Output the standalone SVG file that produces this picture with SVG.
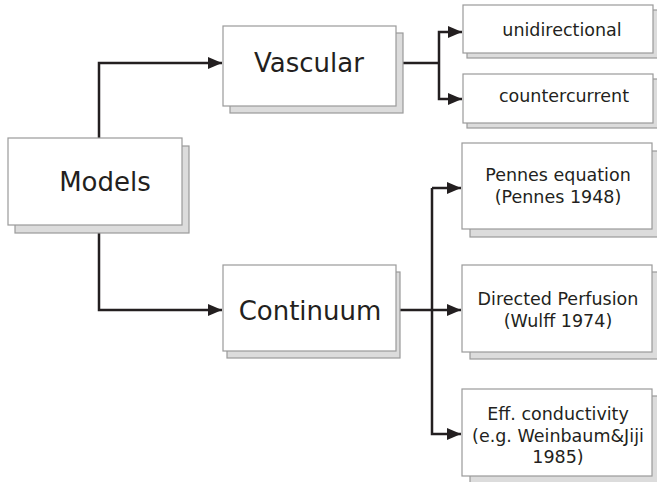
<svg xmlns="http://www.w3.org/2000/svg" width="657" height="482" viewBox="0 0 657 482">
<style>
.box{fill:#fff;stroke:#9a9a9a;stroke-width:1.2}
.sh{fill:#dcdcdc;stroke:#9a9a9a;stroke-width:1.2}
.big{font-family:"DejaVu Sans",Verdana,sans-serif;font-size:26px;fill:#231f20;text-anchor:middle}
.sm{font-family:"DejaVu Sans",Verdana,sans-serif;font-size:17.5px;fill:#231f20;text-anchor:middle}
.ln{fill:none;stroke:#231f20;stroke-width:2.5}
</style>
<defs>
<marker id="ah" markerWidth="14" markerHeight="12" refX="14" refY="6" orient="auto" markerUnits="userSpaceOnUse">
<path d="M0,0 L14,6 L0,12 Z" fill="#231f20"/>
</marker>
</defs>
<g id="connectors">
<path class="ln" d="M99,138 V63 H222" marker-end="url(#ah)"/>
<path class="ln" d="M99,233 V310 H222" marker-end="url(#ah)"/>
<path class="ln" d="M403,63 H439"/>
<path class="ln" d="M439,63 V32 H462" marker-end="url(#ah)"/>
<path class="ln" d="M439,63 V99 H462" marker-end="url(#ah)"/>
<path class="ln" d="M400,310 H461" marker-end="url(#ah)"/>
<path class="ln" d="M432,188 H461" marker-end="url(#ah)"/>
<path class="ln" d="M432,188 V434 H461" marker-end="url(#ah)"/>
</g>
<g id="models">
<rect class="sh" x="15" y="146" width="174" height="87"/>
<rect class="box" x="8" y="138" width="174" height="87"/>
<text class="big" x="105" y="191">Models</text>
</g>
<g id="vascular">
<rect class="sh" x="230" y="33" width="173" height="80"/>
<rect class="box" x="223" y="26" width="173" height="80"/>
<text class="big" x="309" y="72">Vascular</text>
</g>
<g id="continuum">
<rect class="sh" x="227" y="272" width="173" height="86"/>
<rect class="box" x="223" y="265" width="173" height="86"/>
<text class="big" x="310" y="320">Continuum</text>
</g>
<g id="unidirectional">
<rect class="sh" x="467" y="10" width="195" height="48"/>
<rect class="box" x="463" y="5" width="190" height="48"/>
<text class="sm" x="562" y="36">unidirectional</text>
</g>
<g id="countercurrent">
<rect class="sh" x="467" y="79" width="195" height="49"/>
<rect class="box" x="463" y="74" width="190" height="49"/>
<text class="sm" x="564" y="102">countercurrent</text>
</g>
<g id="pennes">
<rect class="sh" x="470" y="151" width="195" height="86"/>
<rect class="box" x="462" y="143" width="190" height="86"/>
<text class="sm" x="558" y="181">Pennes equation</text>
<text class="sm" x="558" y="203">(Pennes 1948)</text>
</g>
<g id="directed">
<rect class="sh" x="470" y="272" width="195" height="87"/>
<rect class="box" x="462" y="265" width="190" height="87"/>
<text class="sm" x="558" y="305">Directed Perfusion</text>
<text class="sm" x="558" y="327">(Wulff 1974)</text>
</g>
<g id="eff">
<rect class="sh" x="470" y="396" width="195" height="87"/>
<rect class="box" x="462" y="389" width="190" height="87"/>
<text class="sm" x="558" y="420">Eff. conductivity</text>
<text class="sm" x="558" y="442">(e.g. Weinbaum&amp;Jiji</text>
<text class="sm" x="558" y="463">1985)</text>
</g>
</svg>
